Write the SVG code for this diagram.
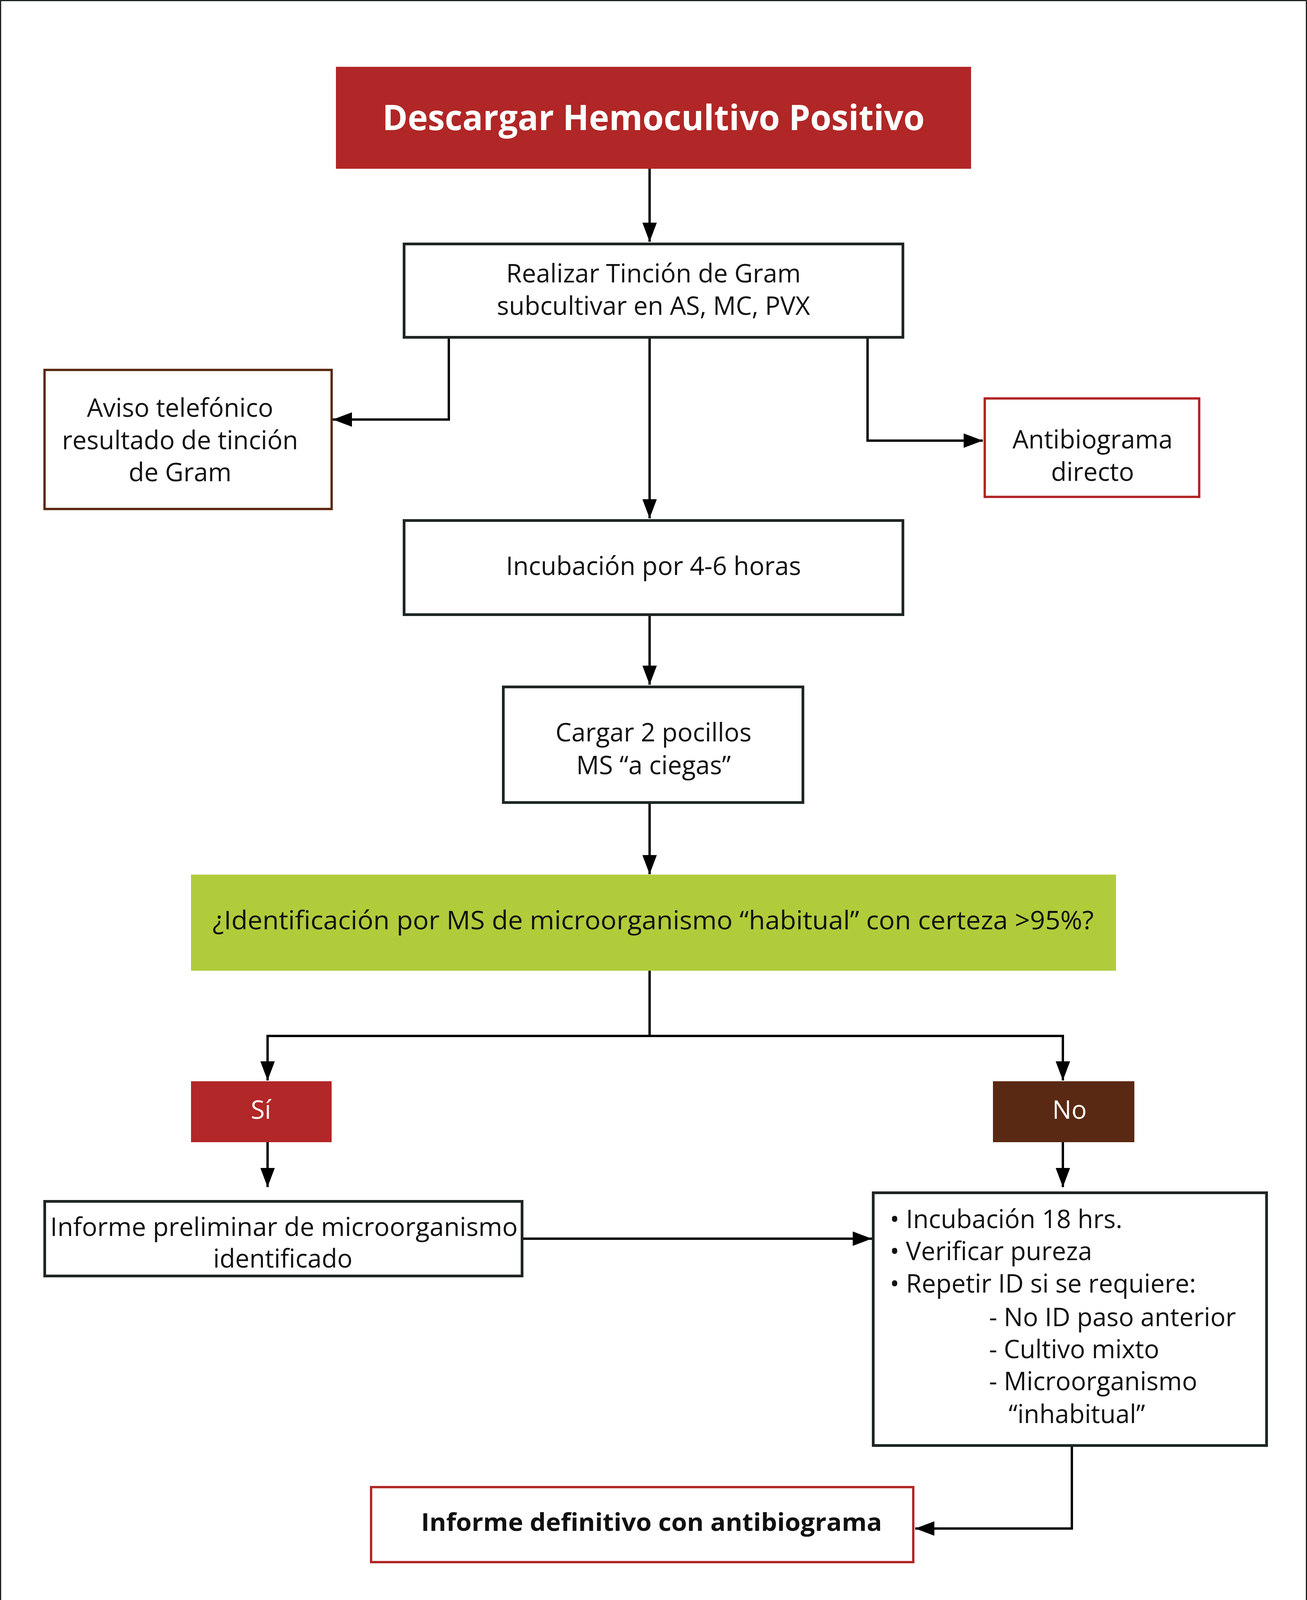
<svg xmlns="http://www.w3.org/2000/svg" width="3346" height="4199" viewBox="0 0 3346 4199">
<style>
.t{font-family:"Open Sans","Noto Sans","Liberation Sans",sans-serif;font-size:65px;fill:#111;}
.c{text-anchor:middle;}
.w{fill:#fff;}
.b{font-weight:700;}
.big{font-size:90px;}
.fin{font-size:62px;}
.box{fill:#fff;stroke:#1e2624;stroke-width:7;}
.red{fill:#fff;stroke:#b22727;stroke-width:6;}
.brown{fill:#fff;stroke:#5c2a14;stroke-width:6;}
.ln{fill:none;stroke:#000;stroke-width:6;marker-end:url(#ah);}
.ln2{fill:none;stroke:#000;stroke-width:6;}
</style>
<defs>
<marker id="ah" markerUnits="userSpaceOnUse" markerWidth="49" markerHeight="37" refX="49" refY="18.5" orient="auto">
<path d="M0,0 L49,18.5 L0,37 z" fill="#000"/>
</marker>
</defs>
<rect x="0" y="0" width="3346" height="4199" fill="#fff"/>
<rect x="1.5" y="1.5" width="3343" height="4196" fill="none" stroke="#1e2624" stroke-width="3"/>

<g id="connectors">
<path class="ln" d="M1663,432 V619"/>
<path class="ln" d="M1149,867 V1074 H852"/>
<path class="ln" d="M1663,867 V1327"/>
<path class="ln" d="M2221,867 V1128 H2516"/>
<path class="ln" d="M1663,1577 V1753"/>
<path class="ln" d="M1663,2058 V2238"/>
<path class="ln2" d="M1663,2485 V2652"/>
<path class="ln2" d="M682,2652 H2724"/>
<path class="ln" d="M685,2652 V2766"/>
<path class="ln" d="M2721,2652 V2766"/>
<path class="ln" d="M685,2924 V3039"/>
<path class="ln" d="M2721,2924 V3039"/>
<path class="ln" d="M1340,3171 H2232"/>
<path class="ln" d="M2744,3704 V3913 H2343"/>
</g>

<g id="n1">
<rect x="860" y="171" width="1626" height="261" fill="#b12626"/>
<text class="t c w b big" x="1673" y="333" textLength="1388" lengthAdjust="spacingAndGlyphs">Descargar Hemocultivo Positivo</text>
</g>

<g id="n2">
<rect class="box" x="1034.5" y="624.5" width="1277" height="239"/>
<text class="t c" x="1673" y="723">Realizar Tinción de Gram</text>
<text class="t c" x="1673" y="806">subcultivar en AS, MC, PVX</text>
</g>

<g id="n3">
<rect class="brown" x="114" y="947" width="735" height="356"/>
<text class="t c" x="461" y="1067">Aviso telefónico</text>
<text class="t c" x="461" y="1150">resultado de tinción</text>
<text class="t c" x="461" y="1232">de Gram</text>
</g>

<g id="n4">
<rect class="red" x="2521" y="1020" width="549" height="252"/>
<text class="t c" x="2797" y="1148">Antibiograma</text>
<text class="t c" x="2797" y="1231">directo</text>
</g>

<g id="n5">
<rect class="box" x="1034.5" y="1332.5" width="1277" height="241"/>
<text class="t c" x="1673" y="1472">Incubación por 4-6 horas</text>
</g>

<g id="n6">
<rect class="box" x="1288.5" y="1758.5" width="767" height="296"/>
<text class="t c" x="1673" y="1898">Cargar 2 pocillos</text>
<text class="t c" x="1673" y="1982">MS “a ciegas”</text>
</g>

<g id="n7">
<rect x="489" y="2239" width="2368" height="246" fill="#b0cc3b"/>
<text class="t c" x="1672" y="2379" textLength="2256" lengthAdjust="spacingAndGlyphs">¿Identificación por MS de microorganismo “habitual” con certeza &gt;95%?</text>
</g>

<g id="n8">
<rect x="489" y="2768" width="360" height="156" fill="#b22727"/>
<text class="t c w" x="668" y="2864">Sí</text>
</g>

<g id="n9">
<rect x="2542" y="2768" width="362" height="156" fill="#5a2913"/>
<text class="t c w" x="2738" y="2864">No</text>
</g>

<g id="n10">
<rect class="box" x="114.5" y="3075.5" width="1222" height="191"/>
<text class="t c" x="727" y="3164" textLength="1197" lengthAdjust="spacingAndGlyphs">Informe preliminar de microorganismo</text>
<text class="t c" x="724" y="3245">identificado</text>
</g>

<g id="n11">
<rect class="box" x="2235.5" y="3053.5" width="1007" height="647"/>
<text class="t" x="2278" y="3144">• Incubación 18 hrs.</text>
<text class="t" x="2278" y="3226">• Verificar pureza</text>
<text class="t" x="2278" y="3309">• Repetir ID si se requiere:</text>
<text class="t" x="2532" y="3395">- No ID paso anterior</text>
<text class="t" x="2532" y="3477">- Cultivo mixto</text>
<text class="t" x="2532" y="3559">- Microorganismo</text>
<text class="t" x="2582" y="3643">“inhabitual”</text>
</g>

<g id="n12">
<rect class="red" x="950" y="3807" width="1388" height="192"/>
<text class="t c b fin" x="1668" y="3919" textLength="1180" lengthAdjust="spacingAndGlyphs">Informe definitivo con antibiograma</text>
</g>
</svg>
